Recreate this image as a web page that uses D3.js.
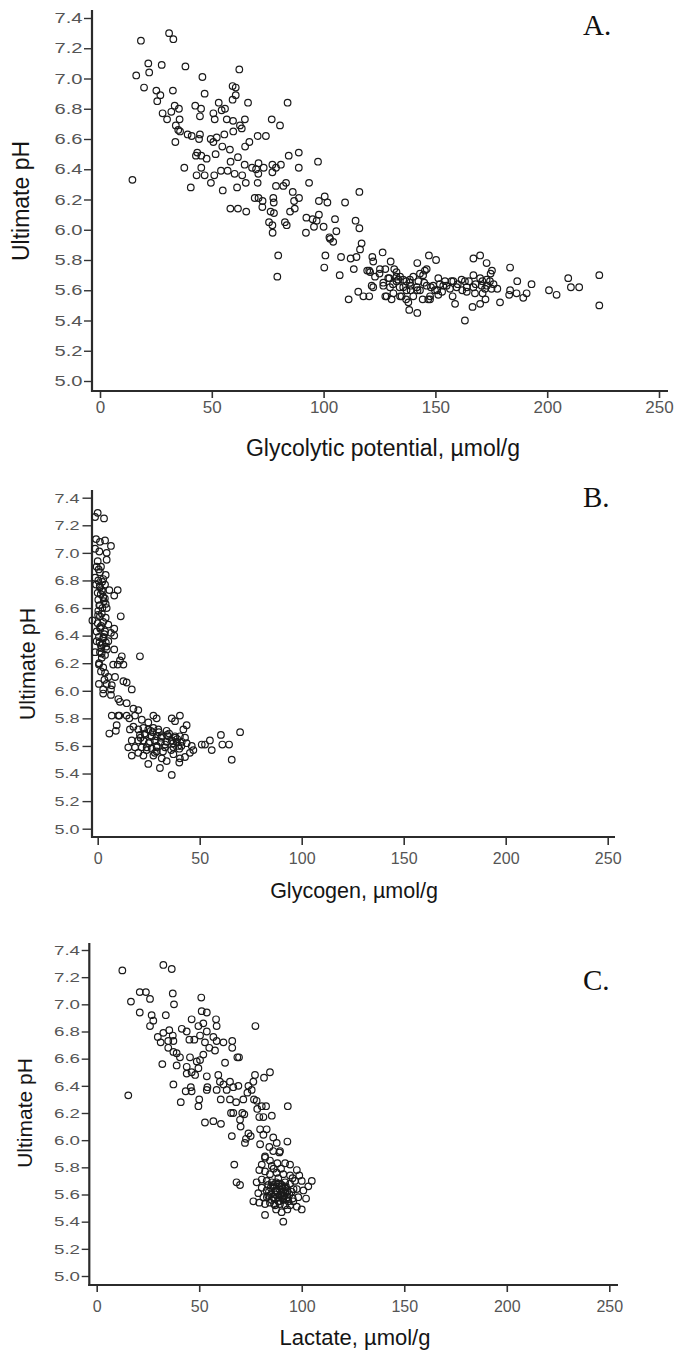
<!DOCTYPE html>
<html>
<head>
<meta charset="utf-8">
<script src="https://cdnjs.cloudflare.com/ajax/libs/d3/7.8.5/d3.min.js"></script>
<style>
body { margin: 0; background: #fff; }
svg { display: block; font-family: "Liberation Sans", Arial, sans-serif; }
</style>
</head>
<body>
<svg></svg>
<script>
// A. glycolytic potential vs ultimate pH
var gpX = [18.3,30.9,32.8,21.6,27.6,38.2,22.0,16.2,62.3,45.8,
  19.7,25.2,27.0,25.6,32.6,46.8,59.3,60.7,60.7,59.3,
  53.1,66.2,83.9,28.0,31.9,33.4,35.3,30.0,35.6,42.6,
  45.2,44.7,50.7,51.3,54.4,55.9,56.7,59.5,62.6,64.8,
  59.6,63.4,76.8,80.5,33.9,35.0,35.8,39.2,41.0,44.7,
  44.3,49.5,50.7,52.2,55.6,33.7,54.7,58.1,51.7,64.9,
  66.8,70.5,74.2,43.5,42.9,45.3,47.7,61.7,58.4,64.7,
  68.0,70.9,70.8,69.8,73.2,77.1,77.1,80.9,78.7,84.4,
  88.9,88.9,97.5,37.7,45.3,43.2,46.8,40.6,49.6,51.1,
  54.1,57.1,60.2,63.6,54.9,61.3,65.2,70.5,14.5,78.7,
  82.0,83.2,86.2,89.0,93.5,69.2,70.9,72.7,72.6,77.5,
  77.7,86.8,85.0,87.1,58.3,61.7,65.4,76.3,77.8,75.6,
  77.1,77.2,82.7,83.5,92.3,92.1,95.1,96.9,97.9,95.7,
  100.0,97.9,100.5,101.7,79.7,79.3,100.8,100.3,102.6,
  116.0,109.6,105.1,114.3,116.0,105.7,102.9,104.3,117.0,116.3,
  126.4,121.8,114.7,112.1,107.8,107.2,113.5,122.2,120.4,125.2,
  130.0,127.6,131.6,132.6,129.4,121.5,122.2,126.7,127.6,130.4,
  134.2,135.6,134.9,137.9,138.6,140.1,141.9,143.1,146.1,147.1,
  150.3,138.9,143.1,144.3,147.6,149.0,150.8,138.3,141.9,111.2,
  115.5,117.8,120.4,132.6,140.1,
  167.0,170.0,172.9,175.3,174.7,183.4,167.0,170.0,172.9,174.4,
  161.7,163.2,157.2,154.3,151.3,159.5,156.5,164.0,167.0,170.7,
  172.2,175.1,177.7,171.1,167.7,164.0,157.7,158.8,166.6,170.0,
  172.4,178.9,183.0,183.4,186.6,186.3,189.3,190.8,193.0,200.8,
  204.2,209.4,210.6,214.3,223.3,223.3,163.2,153.5,151.3,
  128.9,132.6,133.4,135.6,137.1,138.6,142.4,144.5,145.3,146.1,
  147.6,149.8,128.2,131.2,134.2,136.9,141.7,146.8,126.7,129.7,
  119.5,120.8,
  131,134,137,139,142,145,148,152,155,158,
  160,162,165,168,171,173,176,125,123,153];
var gpPH = [7.25,7.30,7.26,7.10,7.09,7.08,7.04,7.02,7.06,7.01,
  6.94,6.92,6.89,6.85,6.92,6.90,6.95,6.94,6.89,6.86,
  6.84,6.84,6.84,6.77,6.78,6.82,6.80,6.73,6.73,6.82,
  6.80,6.75,6.77,6.73,6.79,6.80,6.73,6.72,6.69,6.73,
  6.65,6.67,6.73,6.69,6.69,6.66,6.65,6.63,6.62,6.63,
  6.60,6.60,6.58,6.61,6.63,6.58,6.55,6.53,6.50,6.55,
  6.58,6.62,6.62,6.51,6.49,6.49,6.47,6.48,6.45,6.43,
  6.41,6.44,6.37,6.40,6.41,6.43,6.38,6.43,6.41,6.49,
  6.51,6.41,6.45,6.41,6.41,6.36,6.36,6.28,6.31,6.36,
  6.39,6.39,6.37,6.36,6.26,6.28,6.31,6.31,6.33,6.29,
  6.29,6.31,6.25,6.21,6.31,6.21,6.21,6.19,6.15,6.21,
  6.18,6.19,6.12,6.14,6.14,6.14,6.12,6.12,6.11,6.05,
  6.03,5.98,6.05,6.03,6.08,5.98,6.07,6.06,6.10,6.02,
  6.02,6.19,6.22,6.18,5.83,5.69,5.83,5.75,5.95,
  6.25,6.18,6.07,6.06,6.01,5.99,5.94,5.92,5.91,5.87,
  5.85,5.82,5.82,5.81,5.82,5.70,5.74,5.79,5.73,5.74,
  5.79,5.74,5.74,5.69,5.68,5.63,5.62,5.63,5.56,5.54,
  5.69,5.62,5.56,5.52,5.67,5.69,5.78,5.71,5.74,5.83,
  5.80,5.60,5.60,5.54,5.54,5.63,5.60,5.47,5.45,5.54,
  5.59,5.56,5.56,5.66,5.56,
  5.81,5.83,5.78,5.73,5.71,5.75,5.70,5.68,5.67,5.66,
  5.67,5.66,5.66,5.66,5.68,5.62,5.61,5.62,5.62,5.63,
  5.61,5.61,5.61,5.58,5.58,5.59,5.56,5.51,5.49,5.51,
  5.54,5.52,5.57,5.60,5.66,5.58,5.55,5.58,5.64,5.60,
  5.57,5.68,5.62,5.62,5.70,5.50,5.40,5.63,5.57,
  5.68,5.72,5.67,5.67,5.60,5.65,5.66,5.70,5.73,5.63,
  5.56,5.60,5.56,5.58,5.56,5.54,5.62,5.54,5.65,5.62,
  5.73,5.72,
  5.64,5.62,5.66,5.63,5.60,5.65,5.62,5.64,5.63,5.66,
  5.64,5.60,5.66,5.64,5.66,5.63,5.64,5.71,5.69,5.59];

// B. glycogen vs ultimate pH
var glyX = [0,-1.3,3.1,-0.8,1.1,3.6,6.5,-1.3,0.8,4.4,
  4.4,0,-0.5,1.6,1.1,3.9,-1.3,0.3,2.7,-0.8,
  1.1,3.6,5.7,9.8,8.1,2.0,0,2.7,0.3,3.9,
  1.1,2.3,4.4,0.3,11.3,-2.6,1.1,3.9,0,2.7,
  5.2,8.1,1.1,-0.5,3.6,6.5,8.1,0.6,2.7,-0.5,
  5.2,1.6,4.1,8.1,-1.3,1.1,3.6,20.7,11.8,2.0,
  10.9,0.6,7.6,9.8,12.6,2.7,1.6,3.6,5.2,8.5,
  12.6,14.2,0.6,4.4,6.9,2.7,6.5,16.7,2.7,6.5,
  10.1,10.9,14.2,17.5,19.9,18.3,6.9,10.1,10.6,14.2,
  15.5,21.6,9.3,8.9,5.7,27.3,28.9,24.8,36.3,40.3,
  37.9,43.6,42.0,15.8,17.5,19.9,22.4,24.8,27.3,29.7,
  33.8,20.7,23.2,26.5,28.9,31.4,34.6,37.9,40.3,42.8,
  16.7,19.9,22.4,25.6,28.1,31.0,33.8,36.3,38.7,41.2,
  43.6,15.0,18.3,21.6,24.0,26.5,28.9,33.0,37.1,39.5,
  46.1,51.0,52.6,55.0,55.9,60.4,61.1,64.4,69.8,65.7,
  16.7,19.9,22.4,27.3,28.9,31.4,37.1,40.3,42.8,45.2,
  46.9,24.8,30.5,33.8,40.0,36.3,
  0.5,2.2,1.5,3.0,0.8,2.0,1.7,3.2,0.9,2.4,4.5,1.8,
  21,23,25,27,29,31,33,35,37,39,
  41,24,28,32,36,40,26,30,34,38,
  1.0,2.5,3.5,0.2,1.3,2.8,4.0,1.9,0.7,3.3];
var glyPH = [7.29,7.26,7.25,7.10,7.08,7.09,7.05,7.03,7.01,7.00,
  6.95,6.94,6.90,6.90,6.86,6.84,6.82,6.80,6.81,6.77,
  6.75,6.77,6.73,6.73,6.69,6.73,6.71,6.68,6.66,6.63,
  6.62,6.60,6.60,6.58,6.54,6.51,6.54,6.53,6.49,6.50,
  6.48,6.45,6.46,6.43,6.43,6.42,6.40,6.39,6.38,6.36,
  6.36,6.33,6.32,6.30,6.28,6.28,6.26,6.25,6.25,6.24,
  6.22,6.19,6.19,6.19,6.19,6.17,6.14,6.13,6.10,6.10,
  6.07,6.06,6.05,6.05,6.04,6.01,6.01,6.01,5.98,5.97,
  5.94,5.92,5.91,5.87,5.86,5.82,5.82,5.82,5.82,5.82,
  5.80,5.79,5.75,5.71,5.69,5.82,5.80,5.77,5.80,5.82,
  5.78,5.75,5.72,5.72,5.74,5.72,5.73,5.72,5.73,5.72,
  5.71,5.68,5.68,5.67,5.67,5.67,5.67,5.67,5.67,5.66,
  5.64,5.64,5.64,5.63,5.64,5.63,5.63,5.64,5.63,5.63,
  5.62,5.59,5.59,5.59,5.59,5.58,5.59,5.59,5.59,5.60,
  5.60,5.61,5.61,5.64,5.57,5.68,5.61,5.61,5.70,5.50,
  5.53,5.55,5.53,5.53,5.56,5.51,5.54,5.51,5.52,5.55,
  5.57,5.47,5.44,5.49,5.48,5.39,
  6.88,6.79,6.70,6.65,6.62,6.56,6.47,6.41,6.35,6.34,6.30,6.31,
  5.66,5.69,5.62,5.70,5.60,5.66,5.61,5.69,5.62,5.65,
  5.60,5.57,5.55,5.56,5.57,5.58,5.71,5.70,5.68,5.66,
  6.76,6.72,6.67,6.55,6.45,6.39,6.35,6.27,6.20,6.08];

// C. lactate vs ultimate pH
var lacX = [12.5,32.5,36.6,16.7,21.0,24.0,26.0,37.1,37.7,21.0,
  26.8,33.7,27.6,26.0,51.0,51.2,53.7,46.3,58.2,58.5,
  77.4,52.0,53.7,50.4,49.6,41.5,43.9,35.4,32.5,37.1,
  29.8,31.2,34.9,37.4,45.2,47.6,52.8,56.9,58.5,61.8,
  66.1,66.1,54.9,57.7,52.0,62.6,68.6,69.4,34.9,37.4,
  39.0,40.6,32.0,39.0,45.5,43.9,48.8,50.4,49.6,46.3,
  48.0,43.9,37.4,43.4,45.9,46.3,50.0,49.6,41.0,53.7,
  54.0,53.7,59.3,60.1,58.5,61.8,63.4,65.0,66.6,69.1,
  60.5,65.0,68.0,74.0,76.4,77.2,81.6,84.5,73.5,75.6,
  71.5,76.7,78.0,65.5,66.6,71.0,72.0,69.9,70.2,74.0,
  72.8,75.1,72.3,52.8,56.9,60.6,65.9,78.3,80.5,79.3,
  81.3,85.4,82.6,93.2,79.7,82.9,81.3,79.7,86.1,87.8,
  84.2,86.1,89.1,93.0,82.1,67.1,68.2,69.9,15.4,
  82.1,89.4,88.1,80.5,85.4,91.9,94.3,97.6,98.8,79.3,
  82.1,84.5,87.8,91.0,94.3,78.0,80.5,82.9,85.4,87.5,
  89.4,91.9,94.3,96.7,100.0,104.9,103.2,80.5,82.9,84.9,
  87.0,89.1,91.0,93.0,95.1,97.6,100.8,78.8,81.3,83.7,
  86.1,88.6,90.7,93.0,95.6,98.3,102.1,79.3,82.1,84.5,
  87.0,89.4,91.9,94.3,97.6,100.0,87.5,90.2,93.0,82.1,
  91.0,90.2,92.3,86.1,83.7,88.6,86.3,89.9,84.5,91.0,
  88.6,93.5,95.9,85.4,88.0,89.5,90.5,87.2,91.5,89.0,76.4,
  86,88,90,92,94,87,89,91,93,85,
  88.5,90.5,92.5,84,96,95.5,83,86.5];
var lacPH = [7.25,7.29,7.26,7.02,7.09,7.09,7.04,7.08,7.00,6.94,
  6.92,6.92,6.88,6.84,7.05,6.95,6.94,6.89,6.89,6.84,
  6.84,6.86,6.80,6.77,6.84,6.82,6.80,6.81,6.79,6.77,
  6.76,6.72,6.73,6.73,6.74,6.74,6.72,6.76,6.73,6.72,
  6.73,6.68,6.68,6.66,6.63,6.57,6.61,6.61,6.68,6.65,
  6.64,6.61,6.56,6.55,6.61,6.54,6.58,6.59,6.53,6.50,
  6.48,6.49,6.41,6.36,6.39,6.36,6.30,6.25,6.28,6.47,
  6.39,6.37,6.48,6.43,6.37,6.41,6.37,6.43,6.39,6.40,
  6.30,6.30,6.28,6.40,6.43,6.48,6.46,6.50,6.35,6.37,
  6.30,6.30,6.29,6.20,6.20,6.20,6.19,6.15,6.10,6.05,
  6.01,6.03,5.98,6.13,6.14,6.12,6.03,6.23,6.25,6.17,
  6.17,6.18,6.25,6.25,6.08,6.08,6.04,5.97,6.02,5.98,
  5.95,5.92,5.91,5.99,5.87,5.82,5.69,5.67,6.33,
  5.88,5.92,5.83,5.82,5.81,5.83,5.82,5.78,5.74,5.78,
  5.77,5.75,5.76,5.75,5.74,5.69,5.71,5.70,5.69,5.69,
  5.68,5.69,5.68,5.70,5.70,5.70,5.66,5.65,5.63,5.65,
  5.63,5.64,5.62,5.63,5.62,5.64,5.63,5.61,5.58,5.59,
  5.58,5.58,5.57,5.58,5.57,5.58,5.57,5.54,5.53,5.54,
  5.52,5.53,5.52,5.52,5.51,5.49,5.49,5.47,5.49,5.45,
  5.40,5.67,5.66,5.67,5.67,5.72,5.79,5.79,5.85,5.56,
  5.55,5.55,5.55,5.56,5.62,5.60,5.64,5.60,5.59,5.66,5.55,
  5.66,5.63,5.61,5.65,5.60,5.57,5.55,5.59,5.62,5.60,
  5.68,5.66,5.57,5.62,5.64,5.72,5.58,5.53];

var xTicks = [0, 50, 100, 150, 200, 250];
var pHTicks = [5.0, 5.2, 5.4, 5.6, 5.8, 6.0, 6.2, 6.4, 6.6, 6.8, 7.0, 7.2, 7.4];

var svgWidth = 675, svgHeight = 1351;

var svg = d3.select('svg')
    .attr("width", svgWidth)
    .attr("height", svgHeight);

svg.append("rect").attr("width", svgWidth).attr("height", svgHeight).attr("fill", "#fff");

// layout of each panel (pixels)
var panels = [
  {xs: gpX, ys: gpPH, letter: "A.", xTitle: "Glycolytic potential, µmol/g",
   left: 92, top: 10, bottom: 391, right: 668, x0: 100, x1: 659, y0: 381, y1: 18,
   yTick: 8, yPad: 1.5, yFont: 14.5, yLabelW: 28, xTick: 7, xFont: 17, xLabelBase: 413,
   titleSize: 23, titleX: 383, titleBase: 456, yTitleSize: 23, yTitleX: 21, yTitleY: 201,
   letterY: 35},
  {xs: glyX, ys: glyPH, letter: "B.", xTitle: "Glycogen, µmol/g",
   left: 92, top: 490, bottom: 837, right: 615, x0: 97.7, x1: 607.7, y0: 828.7, y1: 497.7,
   yTick: 9.5, yPad: 3, yFont: 13.5, yLabelW: 25, xTick: 8, xFont: 16, xLabelBase: 864,
   titleSize: 21.5, titleX: 354, titleBase: 898, yTitleSize: 21.5, yTitleX: 27, yTitleY: 664,
   letterY: 507},
  {xs: lacX, ys: lacPH, letter: "C.", xTitle: "Lactate, µmol/g",
   left: 89.3, top: 943, bottom: 1285, right: 618, x0: 96.7, x1: 609.3, y0: 1276, y1: 950,
   yTick: 7.6, yPad: 1.7, yFont: 13.5, yLabelW: 26, xTick: 7, xFont: 16, xLabelBase: 1312,
   titleSize: 22, titleX: 355, titleBase: 1345, yTitleSize: 21, yTitleX: 24, yTitleY: 1113,
   letterY: 990}
];

panels.forEach(function(p) {
    var xScale = d3.scaleLinear().domain([0, 250]).range([p.x0, p.x1]);
    var yScale = d3.scaleLinear().domain([5, 7.4]).range([p.y0, p.y1]);
    var g = svg.append("g");

    // y axis ticks + labels
    var yAxis = g.append("g")
        .attr("transform", "translate(" + p.left + ",0)")
        .call(d3.axisLeft(yScale).tickValues(pHTicks).tickFormat(d3.format(".1f"))
            .tickSize(p.yTick).tickSizeOuter(0).tickPadding(p.yPad));
    yAxis.select(".domain").remove();
    yAxis.selectAll(".tick line").attr("stroke", "#333").attr("stroke-width", 1.4);
    yAxis.selectAll(".tick text")
        .attr("font-family", '"Liberation Sans", Arial, sans-serif')
        .attr("font-size", p.yFont)
        .attr("fill", "#555")
        .attr("textLength", p.yLabelW)
        .attr("lengthAdjust", "spacingAndGlyphs");

    // x axis ticks + labels
    var xAxis = g.append("g")
        .attr("transform", "translate(0," + p.bottom + ")")
        .call(d3.axisBottom(xScale).tickValues(xTicks).tickSize(p.xTick).tickSizeOuter(0));
    xAxis.select(".domain").remove();
    xAxis.selectAll(".tick line").attr("stroke", "#333").attr("stroke-width", 1.6);
    xAxis.selectAll(".tick text")
        .attr("font-family", '"Liberation Sans", Arial, sans-serif')
        .attr("font-size", p.xFont)
        .attr("fill", "#555")
        .attr("y", p.xLabelBase - p.bottom)
        .attr("dy", 0);

    // axis lines
    g.append("line").attr("x1", p.left).attr("x2", p.left).attr("y1", p.top).attr("y2", p.bottom + 1)
        .attr("stroke", "#2b2b2b").attr("stroke-width", 2.2);
    g.append("line").attr("x1", p.left - 1).attr("x2", p.right).attr("y1", p.bottom).attr("y2", p.bottom)
        .attr("stroke", "#2b2b2b").attr("stroke-width", 2.2);

    // points
    g.append("g").selectAll("circle")
        .data(d3.zip(p.xs, p.ys))
        .enter()
        .append("circle")
        .attr("cx", function(d) { return xScale(d[0]); })
        .attr("cy", function(d) { return yScale(d[1]); })
        .attr("r", 3.3)
        .attr("fill", "none")
        .attr("stroke", "#1a1a1a")
        .attr("stroke-width", 1.2);

    // titles
    g.append("text")
        .attr("x", p.titleX).attr("y", p.titleBase)
        .attr("text-anchor", "middle")
        .attr("font-size", p.titleSize)
        .attr("fill", "#151515")
        .text(p.xTitle);
    g.append("text")
        .attr("transform", "translate(" + p.yTitleX + "," + p.yTitleY + ") rotate(-90)")
        .attr("text-anchor", "middle")
        .attr("dy", "0.36em")
        .attr("font-size", p.yTitleSize)
        .attr("fill", "#151515")
        .text("Ultimate pH");

    // panel letter
    g.append("text")
        .attr("x", 583).attr("y", p.letterY)
        .attr("font-family", '"Liberation Serif", "Times New Roman", serif')
        .attr("font-size", 29)
        .attr("fill", "#111")
        .text(p.letter);
});
</script>
</body>
</html>
